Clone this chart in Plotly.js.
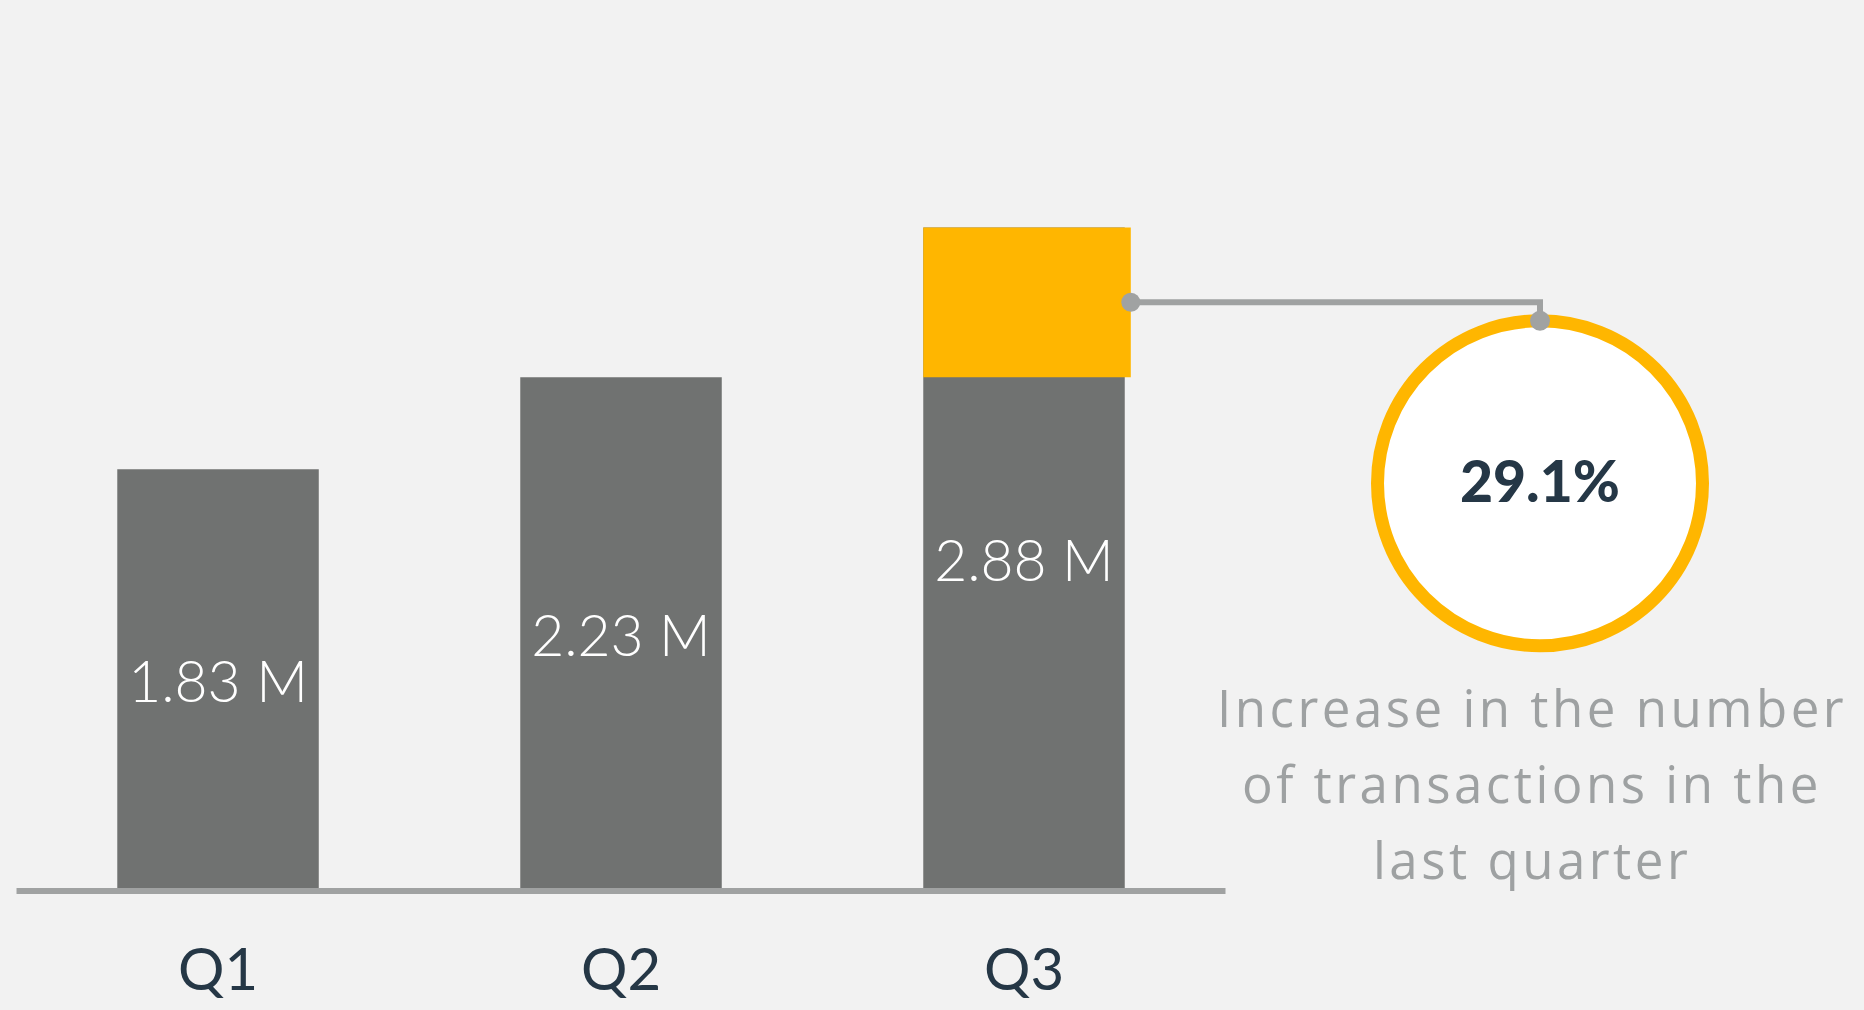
<!DOCTYPE html>
<html>
<head>
<meta charset="utf-8">
<script src="https://cdn.plot.ly/plotly-3.0.1.min.js"></script>
<style>
  html, body { margin: 0; padding: 0; background: #F2F2F2; }
  #chart { width: 1864px; height: 1010px; }
</style>
</head>
<body>
<div id="chart"></div>
<script>
// ---- data ----
const categories = ['Q1', 'Q2', 'Q3'];
const transactions = [1.83, 2.23, 2.88];      // millions
const unitSuffix = ' M';
const calloutLines = ['Increase in the number', 'of transactions in the', 'last quarter'];

// ---- style ----
const FONT = 'Lato, "Open Sans", "DejaVu Sans", sans-serif';
const BG = '#F2F2F2';
const BAR_GREY = '#707271';
const YELLOW = '#FFB600';
const LINE_GREY = '#A0A2A2';
const NAVY = '#253746';
const TEXT_GREY = '#9EA1A2';

// ---- geometry (pixels) ----
const W = 1864, H = 1010, MB = 79;
const PH = H - MB;
const ZERO_PX = 891, PX_PER_M = 230.4;
const xr = [-0.541, 4.0844];
const yr = [-(PH - ZERO_PX) / PX_PER_M, ZERO_PX / PX_PER_M];
const dx = px => xr[0] + px * (xr[1] - xr[0]) / W;
const dy = py => yr[1] - py * (yr[1] - yr[0]) / PH;

const n = transactions.length;
const prev = transactions[n - 2], last = transactions[n - 1];
const increasePct = ((last - prev) / prev * 100).toFixed(1) + '%';

const BAR_W = 0.5;
const HL_OFFSET = -0.25, HL_W = 0.515;

const dotX = (n - 1) + HL_OFFSET + HL_W;
const dotY = (prev + last) / 2;

const circleCX = dx(1540), circleCY = dy(483.3);
const ringR = 162.5, ringW = 13;
const circleTopY = dy(483.3 - ringR);

const traces = [
  {
    type: 'bar',
    x: categories,
    y: transactions,
    width: BAR_W,
    marker: { color: BAR_GREY, line: { width: 0 } },
    texttemplate: '%{y:.2f}' + unitSuffix,
    textposition: 'inside',
    insidetextanchor: 'middle',
    textangle: 0,
    textfont: { family: FONT, size: 57, color: '#FFFFFF', weight: 300 },
    hoverinfo: 'skip'
  },
  {
    type: 'bar',
    x: [categories[n - 1]],
    y: [last - prev],
    base: [prev],
    width: HL_W,
    offset: HL_OFFSET,
    marker: { color: YELLOW, line: { width: 0 } },
    hoverinfo: 'skip'
  }
];

const shapes = [
  // baseline
  { type: 'line', xref: 'x', yref: 'y', x0: -0.5, x1: n - 0.5, y0: 0, y1: 0,
    line: { color: LINE_GREY, width: 6 }, layer: 'above' },
  // connector
  { type: 'path', xref: 'x', yref: 'y',
    path: `M ${dotX} ${dotY} L ${circleCX} ${dotY} L ${circleCX} ${circleTopY}`,
    line: { color: LINE_GREY, width: 6 }, layer: 'above' },
  // ring
  { type: 'circle', xref: 'x', yref: 'y', xsizemode: 'pixel', ysizemode: 'pixel',
    xanchor: circleCX, yanchor: circleCY,
    x0: -ringR, x1: ringR, y0: -ringR, y1: ringR,
    fillcolor: '#FFFFFF', line: { color: YELLOW, width: ringW }, layer: 'above' },
  // dots
  { type: 'circle', xref: 'x', yref: 'y', xsizemode: 'pixel', ysizemode: 'pixel',
    xanchor: dotX, yanchor: dotY, x0: -9.5, x1: 9.5, y0: -9.5, y1: 9.5,
    fillcolor: LINE_GREY, line: { width: 0 }, layer: 'above' },
  { type: 'circle', xref: 'x', yref: 'y', xsizemode: 'pixel', ysizemode: 'pixel',
    xanchor: circleCX, yanchor: circleTopY, x0: -10, x1: 10, y0: -10, y1: 10,
    fillcolor: LINE_GREY, line: { width: 0 }, layer: 'above' }
];

const calloutCenters = [707, 783, 859];
const annotations = [
  { xref: 'x', yref: 'y', x: circleCX, y: circleCY, yshift: 3,
    text: increasePct, showarrow: false,
    font: { family: FONT, size: 57, color: NAVY, weight: 900 } }
].concat(calloutLines.map((t, i) => ({
  xref: 'x', yref: 'y', x: dx(1532), y: dy(calloutCenters[i]),
  text: '<span style="letter-spacing:3.5px">' + t + '</span>',
  showarrow: false, xanchor: 'center', yanchor: 'middle',
  font: { family: '"Open Sans", Lato, sans-serif', size: 51, color: TEXT_GREY, weight: 400 }
})));

const layout = {
  width: W, height: H,
  margin: { l: 0, r: 0, t: 0, b: MB, pad: 0 },
  paper_bgcolor: BG, plot_bgcolor: BG,
  barmode: 'overlay',
  showlegend: false,
  xaxis: {
    type: 'category', range: xr, fixedrange: true,
    showgrid: false, zeroline: false, showline: false, ticks: '',
    tickfont: { family: FONT, size: 58, color: NAVY }
  },
  yaxis: { range: yr, visible: false, fixedrange: true, showgrid: false, zeroline: false },
  shapes: shapes,
  annotations: annotations,
  font: { family: FONT }
};

Plotly.newPlot('chart', traces, layout, { displayModeBar: false, staticPlot: true });
</script>
</body>
</html>
